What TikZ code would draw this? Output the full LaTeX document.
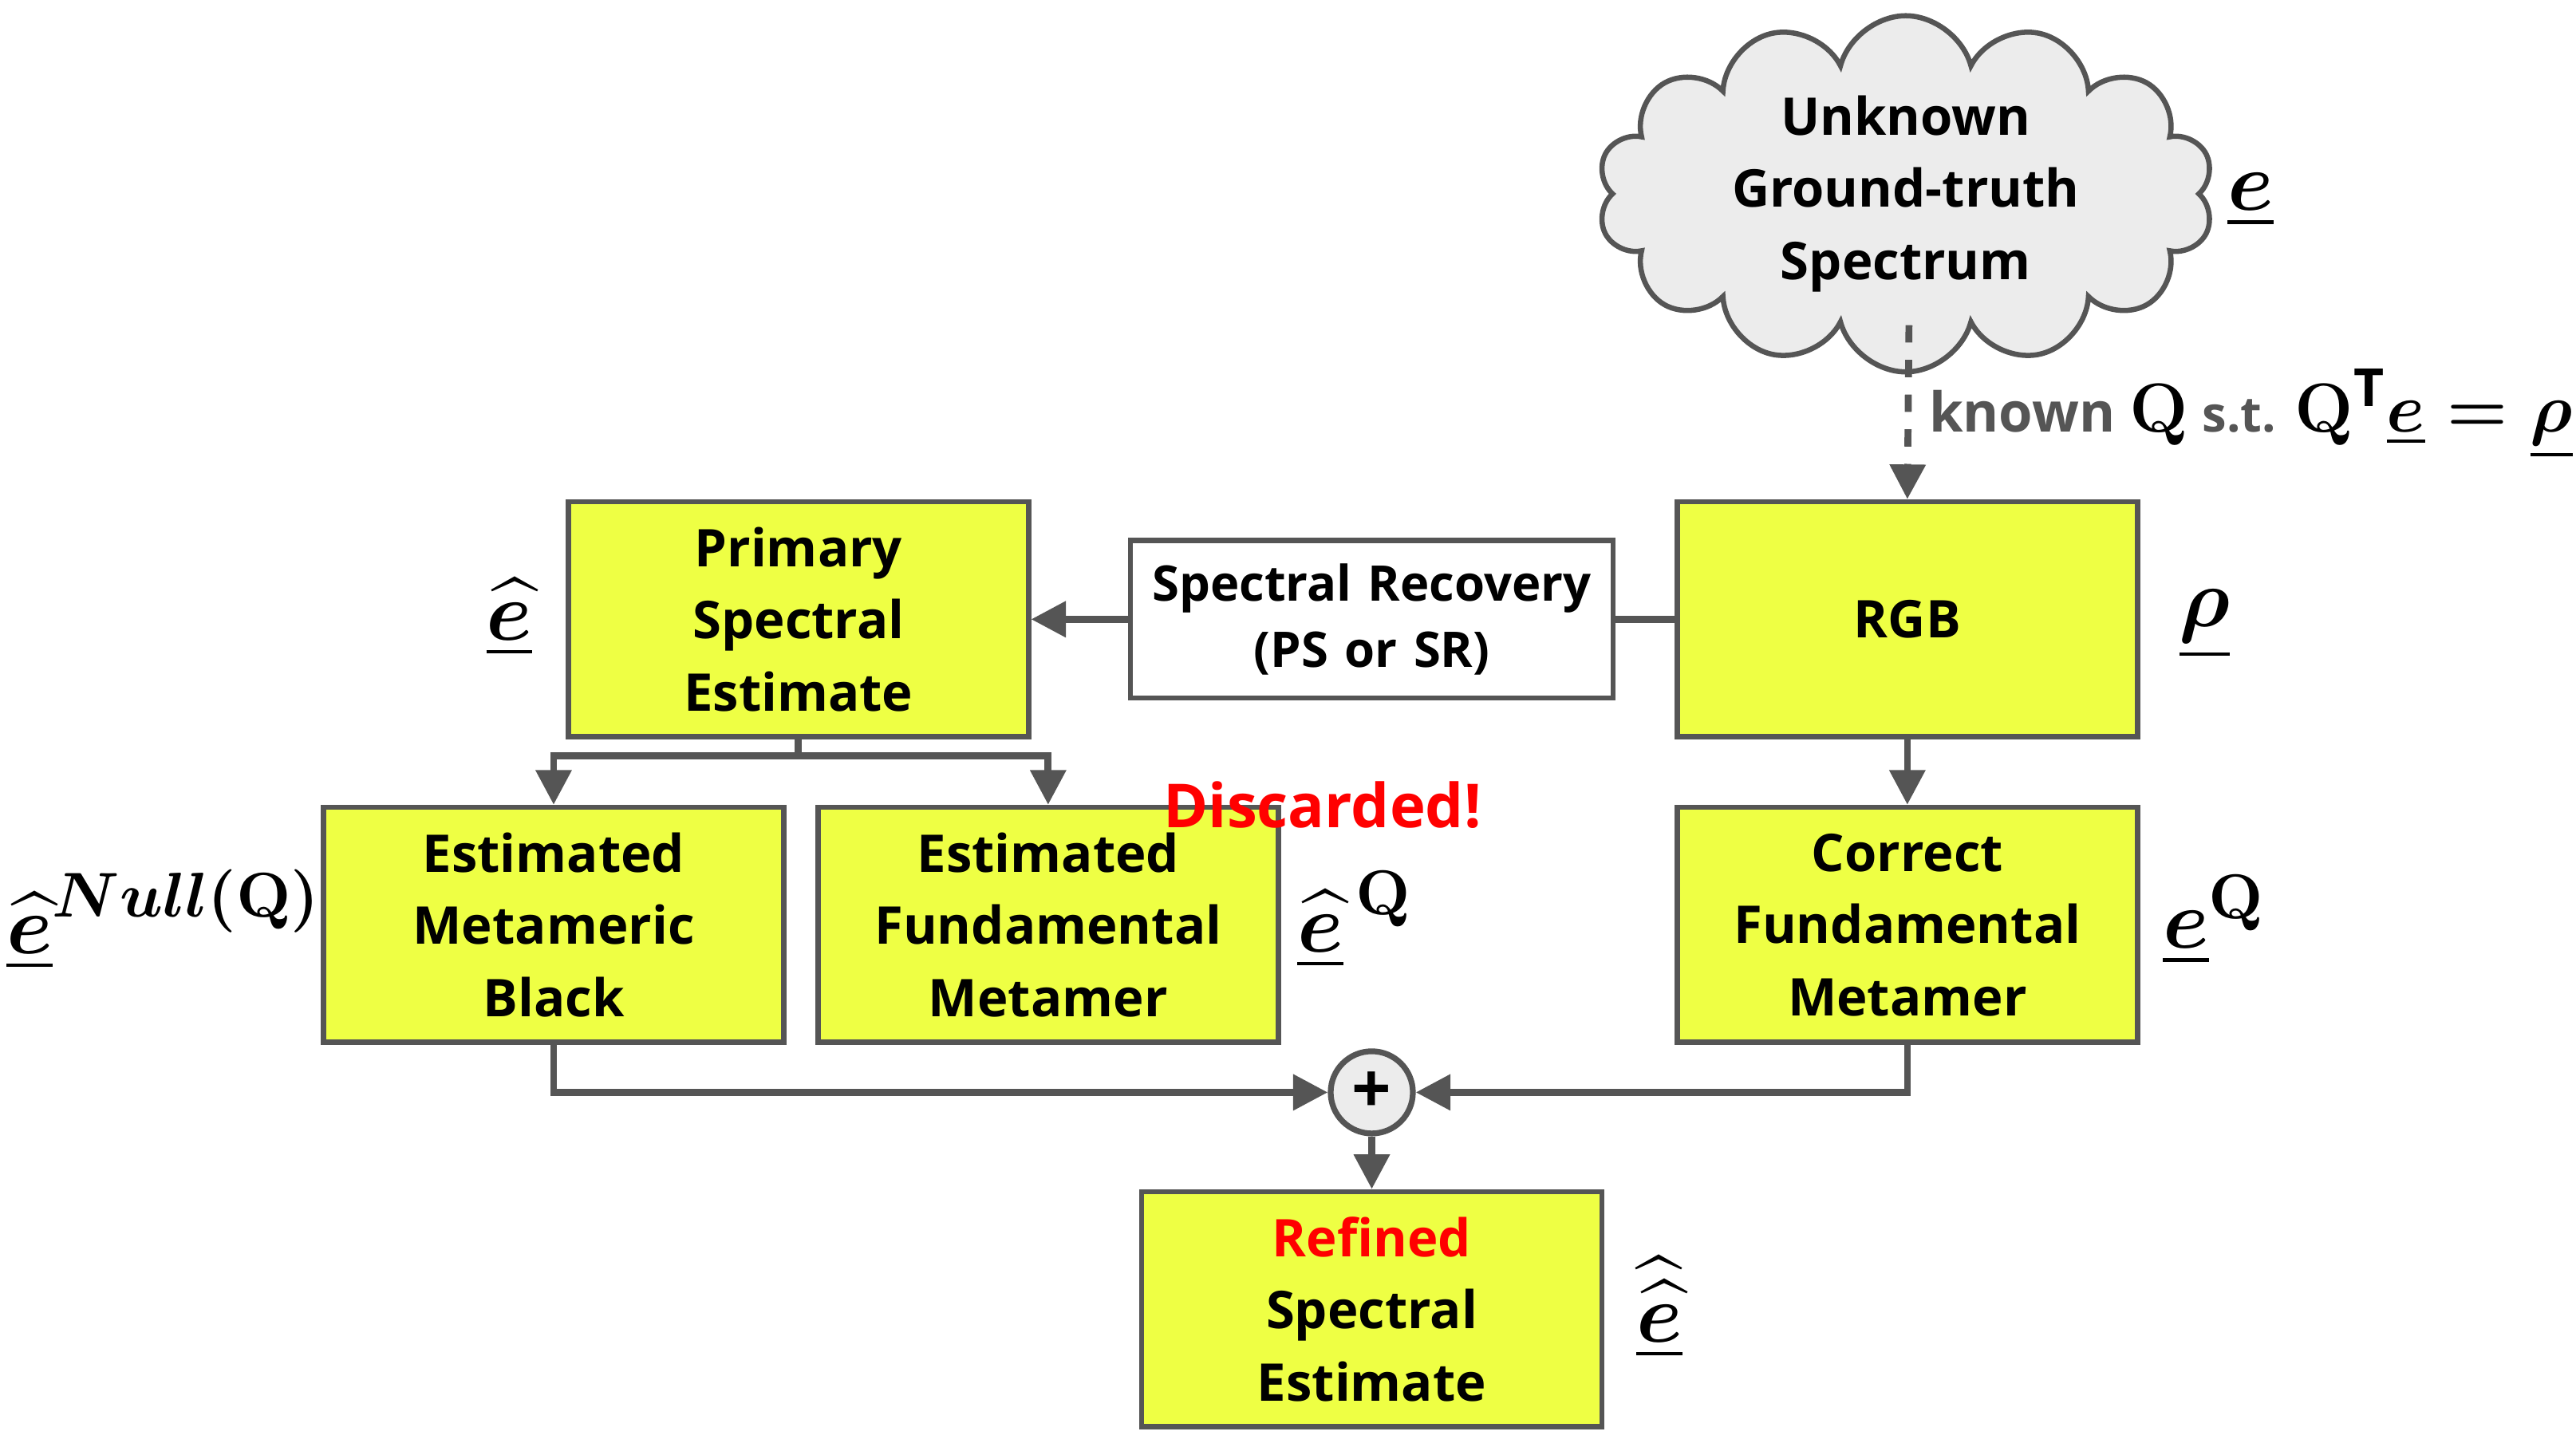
\documentclass[tikz,border=0pt]{standalone}
\usepackage{fontspec}
\usepackage{amsmath,bm}
\setsansfont{Open Sans}
\usetikzlibrary{shapes.symbols,arrows.meta}
\definecolor{boxy}{HTML}{EEFF44}
\definecolor{ln}{HTML}{555555}
\begin{document}
\begin{tikzpicture}[x=0.01cm,y=-0.01cm,
  box/.style={draw=ln,line width=0.9pt,fill=boxy,minimum width=2.8cm,minimum height=1.43cm,align=center,font=\sffamily\bfseries\fontsize{9}{12.5}\selectfont},
  wbox/.style={box,fill=white,minimum width=2.8cm,text width=2.7cm,minimum height=0.96cm,font=\sffamily\bfseries\fontsize{8.5}{11.5}\selectfont},
  con/.style={draw=ln,line width=1.2pt},
  arr/.style={con,-{Triangle[length=6pt,width=6pt]}},
  ml/.style={font=\boldmath\fontsize{15}{18}\selectfont}]
\useasboundingbox (0,0) rectangle (1568,883);
\node[cloud,cloud puffs=14,aspect=1.8,draw=ln,line width=0.9pt,fill=gray!15,minimum width=3.75cm,minimum height=2.1cm,inner sep=0pt,align=center,font=\sffamily\bfseries\fontsize{9}{12.5}\selectfont] (cloud) at (1160,118) {Unknown\\Ground-truth\\Spectrum};
\node[ml] (le) at (1370,122) {$\underline{e}$};
\node[box] (rgb) at (1161,377) {RGB};
\node[wbox] (sr) at (835,377) {Spectral Recovery\\(PS or SR)};
\node[box] (pse) at (486,377) {Primary\\Spectral\\Estimate};
\node[box] (emb) at (337,563) {Estimated\\Metameric\\Black};
\node[box] (efm) at (638,563) {Estimated\\Fundamental\\Metamer};
\node[box] (cfm) at (1161,563) {Correct\\Fundamental\\Metamer};
\node[box] (ref) at (835,797) {\textcolor{red}{Refined}\\Spectral\\Estimate};
\node[draw=ln,line width=1pt,fill=gray!15,circle,minimum size=0.5cm,inner sep=0pt,font=\sffamily\bfseries\large] (plus) at (835,665) {+};
\node[font=\sffamily\bfseries\fontsize{10.5}{13}\selectfont,text=red] (disc) at (805,490) {Discarded!};
\node[ml] (lhe) at (310,376) {$\underline{\widehat{e}}$};
\node[ml] (lrho) at (1342,380) {$\underline{\rho}$};
\node[ml] (lnull) at (100,560) {$\underline{\widehat{e}}^{Null(\mathbf{Q})}$};
\node[ml] (lheq) at (825,560) {$\underline{\widehat{e}}^{\,\mathbf{Q}}$};
\node[ml] (leq) at (1348,560) {$\underline{e}^{\mathbf{Q}}$};
\node[ml] (lhhe) at (1010,796) {$\underline{\widehat{\widehat{e}}}$};
\coordinate (cb) at (1162,198);
\draw[arr,dashed] (cb) -- (rgb.north);
\node[anchor=west,text=ln,inner sep=1pt,font=\sffamily\bfseries\fontsize{9.5}{12}\selectfont] (known) at (1170,252) {known \textcolor{black}{\boldmath\fontsize{13}{16}\selectfont$\mathbf{Q}$} {\fontsize{8.5}{12}\selectfont s.t.} \textcolor{black}{\boldmath\fontsize{13}{16}\selectfont$\mathbf{Q}^{\textsf{T}}\underline{e}=\underline{\rho}$}};
\draw[con] (rgb.west) -- (sr.east);
\draw[arr] (sr.west) -- (pse.east);
\draw[arr] (rgb.south) -- (cfm.north);
\coordinate (j) at (486,460);
\draw[con] (pse.south) -- (j);
\draw[arr] (j) -| (emb.north);
\draw[arr] (j) -| (efm.north);
\draw[arr] (emb.south) |- (plus.west);
\draw[arr] (cfm.south) |- (plus.east);
\draw[arr] (plus.south) -- (ref.north);
\end{tikzpicture}
\end{document}
